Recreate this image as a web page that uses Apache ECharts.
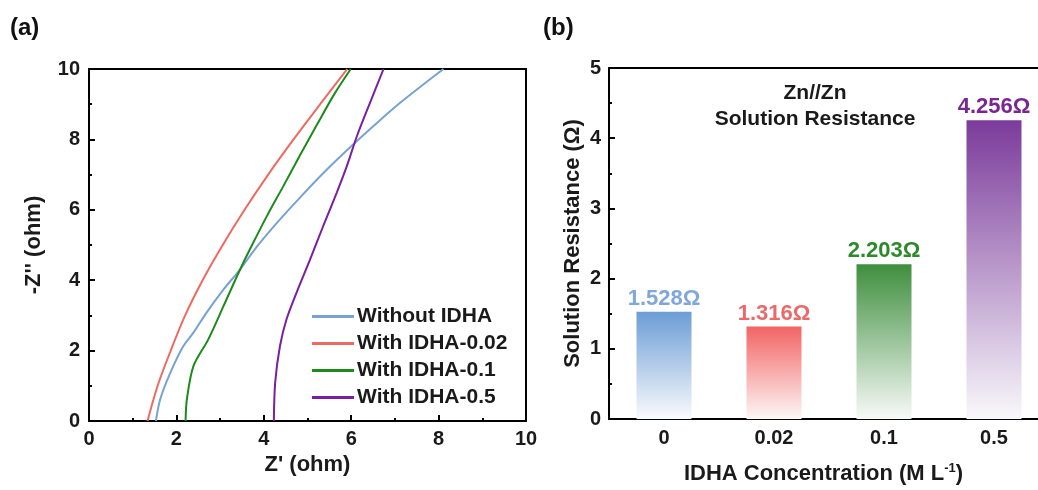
<!DOCTYPE html>
<html>
<head>
<meta charset="utf-8">
<script src="https://cdn.jsdelivr.net/npm/echarts@6/dist/echarts.min.js"></script>
<style>html,body{margin:0;padding:0;background:#fff;}#c{width:1038px;height:490px;}</style>
</head>
<body>
<div id="c"></div>
<script>
// ---- Panel (a): Nyquist data [Z', -Z''] ----
const zWithout = [[1.53,0],[1.63,0.62],[1.86,1.37],[2.16,2.13],[2.39,2.51],[2.69,3.08],[3.08,3.74],[3.46,4.31],[3.82,4.92],[4.30,5.63],[4.86,6.39],[5.45,7.15],[6.05,7.86],[6.51,8.38],[7.12,9.04],[8.11,10]];
const zIDHA002 = [[1.34,0],[1.57,1],[1.87,2],[2.20,3],[2.60,4],[3.06,5],[3.56,6],[4.10,7],[4.68,8],[5.29,9],[5.91,10]];
const zIDHA01 = [[2.21,0],[2.24,0.62],[2.39,1.56],[2.73,2.32],[3.08,3.27],[3.46,4.31],[3.72,4.97],[4.07,5.82],[4.45,6.68],[4.85,7.60],[5.24,8.47],[5.62,9.30],[5.99,10]];
const zIDHA05 = [[4.23,0],[4.26,1.09],[4.37,2.13],[4.52,2.89],[4.75,3.65],[5.06,4.59],[5.36,5.54],[5.67,6.49],[5.90,7.24],[6.13,8.09],[6.43,9.04],[6.74,10]];
const seriesNames = ['Without IDHA','With IDHA-0.02','With IDHA-0.1','With IDHA-0.5'];
const lineColors = ['#76a3d1','#ee6a60','#1e8a1e','#7a1fa0'];

// ---- Panel (b): solution resistance ----
const categories = ['0','0.02','0.1','0.5'];
const resistance = [1.528, 1.316, 2.203, 4.256];
const barTop = ['#6c9dd6','#f26464','#3f8f3f','#7b3b9b'];
const barBottom = ['#fafbfd','#fdf7f7','#f8faf8','#f9f8fb'];
const labelColors = ['#7fa8d8','#e86a6a','#2c8a2c','#7a2592'];

const FF = "'Liberation Sans', Arial, sans-serif";
const chart = echarts.init(document.getElementById('c'));
const axisLine = {show:true, onZero:false, lineStyle:{color:'#000', width:2}};
const tickLabel = {fontFamily:FF, fontWeight:'bold', fontSize:20, color:'#1a1a1a'};
const nameStyle = {fontFamily:FF, fontWeight:'bold', fontSize:22, color:'#1a1a1a'};

chart.setOption({
  animation:false,
  backgroundColor:'#fff',
  grid:[
    {left:89, top:69, width:437, height:352},
    {left:609, top:68, right:0, height:353}
  ],
  legend:{
    data:seriesNames, orient:'vertical', left:307, top:301, icon:'rect',
    itemWidth:42, itemHeight:3, itemGap:6,
    textStyle:{fontFamily:FF, fontWeight:'bold', fontSize:21, color:'#1a1a1a', padding:[0,0,0,-2]}
  },
  xAxis:[
    {gridIndex:0, type:'value', min:0, max:10, interval:2, position:'bottom',
     name:"Z' (ohm)", nameLocation:'middle', nameGap:31, nameTextStyle:nameStyle,
     axisLine:axisLine, axisTick:{show:true, inside:true, length:6, lineStyle:{width:2,color:'#000'}},
     minorTick:{show:true, splitNumber:2, length:3, lineStyle:{width:2,color:'#000'}},
     axisLabel:Object.assign({margin:8}, tickLabel), splitLine:{show:false}},
    {gridIndex:0, type:'value', min:0, max:10, position:'top',
     axisLine:axisLine, axisTick:{show:false}, axisLabel:{show:false}, splitLine:{show:false}},
    {gridIndex:1, type:'value', min:-0.5, max:3.4, position:'bottom',
     name:'IDHA Concentration (M L{sup|-1})', nameLocation:'middle', nameGap:43,
     nameTextStyle:Object.assign({}, nameStyle, {
       rich:{sup:{fontFamily:FF, fontWeight:'bold', fontSize:13, color:'#1a1a1a', verticalAlign:'top', padding:[0,0,11,0]}}}),
     axisLine:axisLine,
     axisTick:{show:true, inside:true, length:6, lineStyle:{width:2,color:'#000'}, customValues:[0,1,2,3]},
     axisLabel:Object.assign({margin:9, customValues:[0,1,2,3], formatter:v=>categories[Math.round(v)]}, tickLabel),
     splitLine:{show:false}},
    {gridIndex:1, type:'value', min:-0.5, max:3.4, position:'top',
     axisLine:axisLine, axisTick:{show:false}, axisLabel:{show:false}, splitLine:{show:false}}
  ],
  yAxis:[
    {gridIndex:0, type:'value', min:0, max:10, interval:2, position:'left',
     name:"-Z'' (ohm)", nameLocation:'middle', nameGap:44, nameTextStyle:nameStyle,
     axisLine:axisLine, axisTick:{show:true, inside:true, length:6, lineStyle:{width:2,color:'#000'}},
     minorTick:{show:true, splitNumber:2, length:3, lineStyle:{width:2,color:'#000'}},
     axisLabel:Object.assign({margin:9}, tickLabel), splitLine:{show:false}},
    {gridIndex:0, type:'value', min:0, max:10, position:'right',
     axisLine:axisLine, axisTick:{show:false}, axisLabel:{show:false}, splitLine:{show:false}},
    {gridIndex:1, type:'value', min:0, max:5, interval:1, position:'left',
     name:'Solution Resistance (Ω)', nameLocation:'middle', nameGap:25, nameTextStyle:nameStyle,
     axisLine:axisLine, axisTick:{show:true, inside:true, length:6, lineStyle:{width:2,color:'#000'}},
     minorTick:{show:true, splitNumber:2, length:3, lineStyle:{width:2,color:'#000'}},
     axisLabel:Object.assign({margin:8}, tickLabel), splitLine:{show:false}}
  ],
  series:[
    ...[zWithout, zIDHA002, zIDHA01, zIDHA05].map((d,i)=>({
      name:seriesNames[i], type:'line', xAxisIndex:0, yAxisIndex:0, data:d,
      smooth:0.3, symbol:'none', clip:true,
      lineStyle:{color:lineColors[i], width:2}, itemStyle:{color:lineColors[i]}
    })),
    {type:'bar', xAxisIndex:2, yAxisIndex:2, barWidth:55,
     data:resistance.map((v,i)=>({
       value:[i, v],
       itemStyle:{color:new echarts.graphic.LinearGradient(0,0,0,1,[{offset:0,color:barTop[i]},{offset:1,color:barBottom[i]}])},
       label:{color:labelColors[i]}
     })),
     label:{show:true, position:'top', distance:2, fontFamily:FF, fontWeight:'bold', fontSize:22,
       formatter:p=>p.value[1].toFixed(3)+'Ω'}}
  ],
  graphic:[
    {type:'text', left:10, top:16, style:{text:'(a)', fontFamily:FF, fontWeight:'bold', fontSize:24, fill:'#111'}},
    {type:'text', left:543, top:16, style:{text:'(b)', fontFamily:FF, fontWeight:'bold', fontSize:24, fill:'#111'}},
    {type:'text', x:815, y:80, style:{text:'Zn//Zn\nSolution Resistance', align:'center', lineHeight:26, fontFamily:FF, fontWeight:'bold', fontSize:21, fill:'#1a1a1a'}}
  ]
});
</script>
</body>
</html>
